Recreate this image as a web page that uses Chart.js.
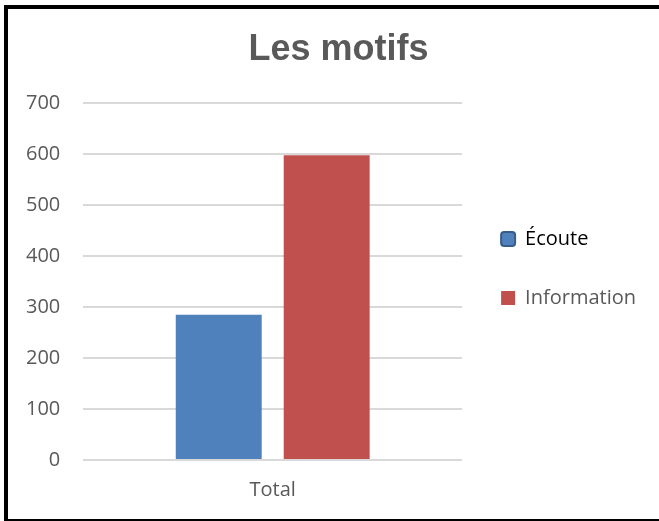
<!DOCTYPE html>
<html>
<head>
<meta charset="utf-8">
<script src="https://cdn.jsdelivr.net/npm/chart.js@4"></script>
<style>
  html, body { margin: 0; padding: 0; background: #fff; }
  #wrap { position: relative; width: 659px; height: 521px; overflow: hidden; }
  #c { position: absolute; left: 0; top: 0; }
  #frame { position: absolute; left: 4px; top: 5px; width: 700px; height: 510px;
           border-top: 4px solid #000; border-left: 4px solid #000; border-bottom: 3px solid #000;
           pointer-events: none; }
</style>
</head>
<body>
<div id="wrap">
  <canvas id="c" width="659" height="521"></canvas>
  <div id="frame"></div>
</div>
<script>
const categories = ['Total'];
const seriesNames = ['Écoute', 'Information'];
const ecoute = [285];
const information = [598];
const yTicks = [0, 100, 200, 300, 400, 500, 600, 700];

const tickFont = { family: "'Open Sans', 'Noto Sans', sans-serif", size: 20 };

const titleShift = {
  id: 'titleShift',
  afterLayout(chart) {
    if (chart.titleBlock) { chart.titleBlock.left += 28; }
  }
};

new Chart(document.getElementById('c'), {
  type: 'bar',
  data: {
    labels: categories,
    datasets: [
      { label: seriesNames[0], data: ecoute, backgroundColor: '#4F81BD', borderWidth: 0,
        categoryPercentage: 0.57, barPercentage: 0.796 },
      { label: seriesNames[1], data: information, backgroundColor: '#C0504D', borderWidth: 0,
        categoryPercentage: 0.57, barPercentage: 0.796 }
    ]
  },
  plugins: [titleShift],
  options: {
    responsive: false,
    animation: false,
    devicePixelRatio: 1,
    layout: { padding: { left: 3, right: 13, top: 0, bottom: 1 } },
    plugins: {
      title: {
        display: true,
        text: 'Les motifs',
        color: '#595959',
        font: { family: "'Liberation Sans', Arial, sans-serif", size: 36, weight: 'bold' },
        padding: { top: 28, bottom: 32 }
      },
      legend: {
        display: true,
        position: 'right',
        align: 'center',
        fullSize: true,
        maxWidth: 220,
        title: { display: true, text: '', font: { size: 10 }, padding: { top: 2.5, bottom: 2.5 } },
        labels: {
          boxWidth: 14,
          boxHeight: 14,
          padding: 39,
          color: '#595959',
          font: tickFont,
          generateLabels(chart) {
            const items = Chart.defaults.plugins.legend.labels.generateLabels(chart);
            items.forEach((it, i) => {
              if (i === 0) {
                it.strokeStyle = '#385D8A';
                it.lineWidth = 2;
                it.borderRadius = 3;
                it.fontColor = '#000000';
              } else {
                it.lineWidth = 0;
                it.fontColor = '#595959';
              }
            });
            return items;
          }
        }
      },
      tooltip: { enabled: false }
    },
    scales: {
      x: {
        grid: { display: false, drawTicks: false },
        border: { display: false },
        ticks: { color: '#595959', font: tickFont, padding: 18 }
      },
      y: {
        min: 0,
        max: 700,
        afterBuildTicks(axis) { axis.ticks = yTicks.map(v => ({ value: v })); },
        grid: { color: '#d9d9d9', lineWidth: 2, drawTicks: false },
        border: { display: false },
        ticks: { color: '#595959', font: tickFont, padding: 23, stepSize: 100 }
      }
    }
  }
});
</script>
</body>
</html>
